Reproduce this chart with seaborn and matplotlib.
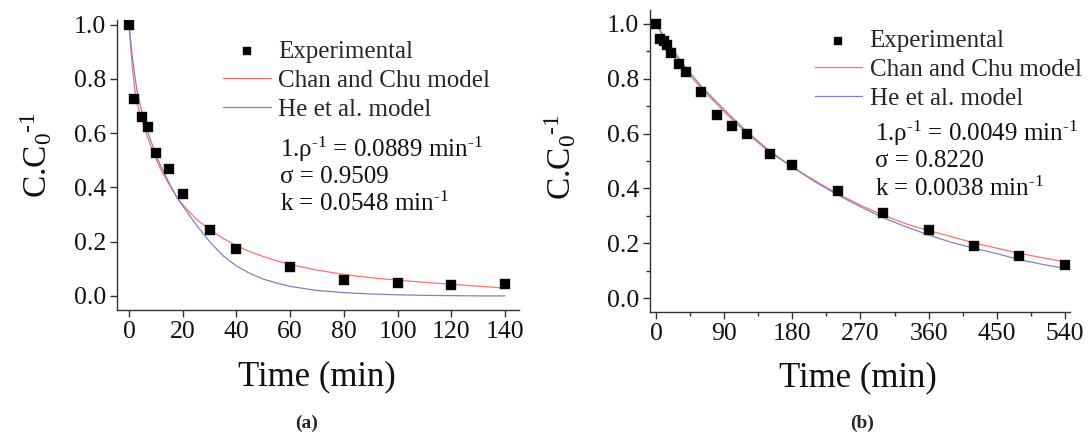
import numpy as np
import pandas as pd
import matplotlib
matplotlib.use("Agg")
import matplotlib.pyplot as plt
import seaborn as sns
from matplotlib.ticker import MultipleLocator

# ---------------- data ----------------
# panel (a)
t_exp_a = [0, 2, 5, 7, 10, 15, 20, 30, 40, 60, 80, 100, 120, 140]
c_exp_a = [1.0, 0.727, 0.659, 0.622, 0.526, 0.466, 0.374, 0.244, 0.172, 0.105, 0.059, 0.049, 0.041, 0.043]
t_fit_a = [0, 1, 2, 3, 4, 5, 6, 8, 10, 12, 15, 18, 21, 25, 30, 35, 40, 45, 50, 55, 60, 70, 80, 90,
           100, 110, 120, 130, 140]
chan_a = [1.0, 0.87, 0.77, 0.71, 0.672, 0.640, 0.610, 0.555, 0.505, 0.462, 0.410, 0.360, 0.325, 0.283,
          0.245, 0.212, 0.185, 0.163, 0.145, 0.129, 0.116, 0.095, 0.079, 0.067, 0.058, 0.050, 0.043,
          0.036, 0.029]
he_a = [1.0, 0.90, 0.82, 0.755, 0.71, 0.67, 0.635, 0.575, 0.52, 0.475, 0.415, 0.36, 0.318, 0.262,
        0.200, 0.148, 0.110, 0.083, 0.062, 0.047, 0.035, 0.020, 0.012, 0.007, 0.004, 0.002, 0.001,
        0.000, 0.000]

# panel (b)
t_exp_b = [0, 5, 10, 15, 20, 30, 40, 60, 80, 100, 120, 150, 180, 240, 300, 360, 420, 480, 540]
c_exp_b = [1.0, 0.945, 0.937, 0.925, 0.895, 0.853, 0.826, 0.753, 0.667, 0.627, 0.597, 0.525, 0.487,
           0.391, 0.311, 0.247, 0.189, 0.152, 0.121]
t_fit_b = [0, 20, 40, 60, 90, 120, 150, 180, 210, 240, 270, 300, 330, 360, 390, 420, 450, 480, 510, 540]
chan_b = [1.0, 0.905, 0.827, 0.765, 0.680, 0.600, 0.533, 0.478, 0.428, 0.380, 0.339, 0.302, 0.271,
          0.246, 0.224, 0.201, 0.182, 0.163, 0.147, 0.132]
he_b = [1.0, 0.915, 0.838, 0.772, 0.688, 0.607, 0.537, 0.478, 0.424, 0.376, 0.333, 0.293, 0.260,
        0.230, 0.203, 0.182, 0.162, 0.140, 0.123, 0.108]

xticks_a = [0, 20, 40, 60, 80, 100, 120, 140]
xticks_b = [0, 90, 180, 270, 360, 450, 540]
yticks = [0.0, 0.2, 0.4, 0.6, 0.8, 1.0]

labels = ["Experimental", "Chan and Chu model", "He et al. model"]
params_a = [r"1.ρ$^{\text{-1}}$ = 0.0889 min$^{\text{-1}}$", "σ = 0.9509", r"k = 0.0548 min$^{\text{-1}}$"]
params_b = [r"1.ρ$^{\text{-1}}$ = 0.0049 min$^{\text{-1}}$", "σ = 0.8220", r"k = 0.0038 min$^{\text{-1}}$"]

# ---------------- style ----------------
sns.set_theme(style="ticks")
plt.rcParams["font.family"] = ["Liberation Serif", "DejaVu Serif"]
plt.rcParams["mathtext.fontset"] = "custom"
plt.rcParams["mathtext.rm"] = "Liberation Serif"
plt.rcParams["mathtext.it"] = "Liberation Serif:italic"
plt.rcParams["mathtext.bf"] = "Liberation Serif:bold"

RED = "#ff7070"
BLUE = "#8080c8"
AX_COL = "#333333"
TXT = "#111111"

fig = plt.figure(figsize=(10.88, 4.32), dpi=100)
ax_a = fig.add_axes([0.1075, 0.2824, 0.3695, 0.6713])
ax_b = fig.add_axes([0.5974, 0.2778, 0.386, 0.6991])


def draw(ax, t_exp, c_exp, t_fit, chan, he, xticks, xlim, ylim, minor):
    sns.lineplot(x=t_fit, y=chan, ax=ax, color=RED, lw=0.9, label=labels[1],
                 estimator=None, sort=False)
    sns.lineplot(x=t_fit, y=he, ax=ax, color=BLUE, lw=0.9, label=labels[2],
                 estimator=None, sort=False)
    sns.scatterplot(x=t_exp, y=c_exp, ax=ax, marker="s", s=42, color="black",
                    edgecolor="#222222", linewidth=0.3, label=labels[0], zorder=5)
    ax.set_xlim(*xlim)
    ax.set_ylim(*ylim)
    ax.set_xticks(xticks)
    ax.set_yticks(yticks)
    ax.set_yticklabels([f"{v:.1f}" for v in yticks])
    if minor is not None:
        ax.xaxis.set_minor_locator(MultipleLocator(minor))
        ax.yaxis.set_minor_locator(MultipleLocator(0.1))
    ax.tick_params(axis="both", which="major", direction="out", length=5, width=1.0,
                   color=AX_COL, labelsize=18.5, labelcolor=TXT, pad=3)
    ax.tick_params(axis="both", which="minor", direction="out", length=3, width=1.0, color=AX_COL)
    for s in ["top", "right"]:
        ax.spines[s].set_visible(False)
    for s in ["left", "bottom"]:
        ax.spines[s].set_color(AX_COL)
        ax.spines[s].set_linewidth(1.0)
    ax.set_xlabel("Time (min)", fontsize=25, color=TXT)
    ax.set_ylabel(r"C.C$_0$$^{\text{-1}}$", fontsize=24, color=TXT)


draw(ax_a, t_exp_a, c_exp_a, t_fit_a, chan_a, he_a, xticks_a, (-4.5, 145.2), (-0.052, 1.017), None)
draw(ax_b, t_exp_b, c_exp_b, t_fit_b, chan_b, he_b, xticks_b, (-7.9, 546.6), (-0.051, 1.051), 45)

ax_a.xaxis.set_label_coords(0.4975, -0.175)
ax_b.xaxis.set_label_coords(0.495, -0.162)
ax_a.yaxis.set_label_coords(-0.155, 0.535)
ax_b.yaxis.set_label_coords(-0.172, 0.512)

for ax, anchor, params, tx, tys in [
    (ax_a, (0.265, 0.93), params_a, 0.405, [0.555, 0.460, 0.367]),
    (ax_b, (0.392, 0.935), params_b, 0.536, [0.590, 0.500, 0.408]),
]:
    h, l = ax.get_legend_handles_labels()
    order = [l.index(x) for x in labels]
    ax.legend([h[i] for i in order], [l[i] for i in order], loc="upper left",
              bbox_to_anchor=anchor, frameon=False, fontsize=18, handlelength=1.9,
              handletextpad=0.3, labelspacing=0.26, borderpad=0, borderaxespad=0,
              markerscale=0.9)
    for txt, ty in zip(params, tys):
        ax.text(tx, ty, txt, transform=ax.transAxes, fontsize=18, va="center", ha="left",
                color=TXT)

fig.text(307 / 1088, 1 - 423 / 432, "(a)", fontsize=14, fontweight="bold", ha="center", va="center")
fig.text(862 / 1088, 1 - 423 / 432, "(b)", fontsize=14, fontweight="bold", ha="center", va="center")

fig.savefig("out.png", dpi=100)
